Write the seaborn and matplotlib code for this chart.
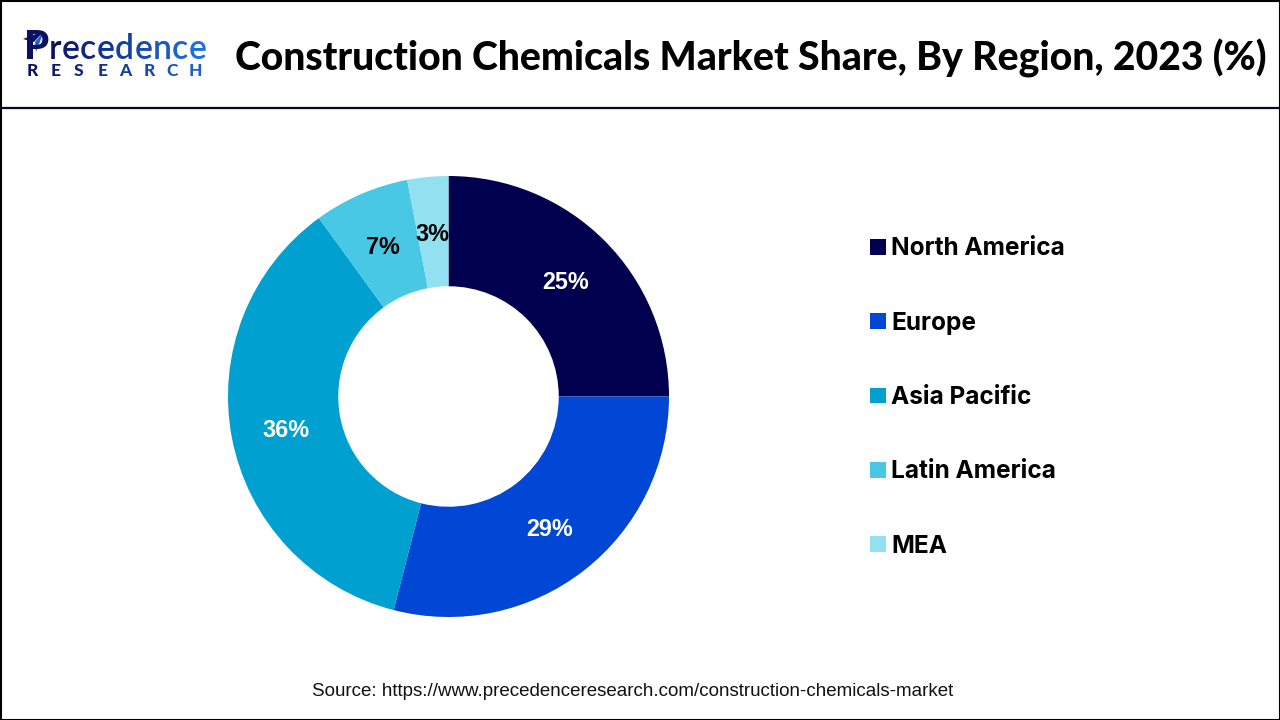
import matplotlib
matplotlib.use("Agg")
import matplotlib.pyplot as plt
from matplotlib.lines import Line2D
from matplotlib.patches import Polygon, Rectangle
import seaborn as sns

regions = ["North America", "Europe", "Asia Pacific", "Latin America", "MEA"]
shares = [25, 29, 36, 7, 3]
region_colors = ["#00004F", "#0047D6", "#00A0D0", "#48C8E4", "#92E0F0"]
label_colors = ["white", "white", "white", "black", "black"]

title = "Construction Chemicals Market Share, By Region, 2023 (%)"
source = "Source: https://www.precedenceresearch.com/construction-chemicals-market"
logo_top = "recedence"
logo_bottom = "RESEARCH"

W, H = 1280, 720

sns.set_theme(style="white")
palette = sns.color_palette(region_colors)

fig = plt.figure(figsize=(W / 100, H / 100), dpi=100, facecolor="white")

# overlay in pixel coordinates for frame, header and logo
bg = fig.add_axes([0, 0, 1, 1])
bg.set_xlim(0, W)
bg.set_ylim(H, 0)
bg.axis("off")
bg.add_patch(Rectangle((0.5, 0.5), W - 1, H - 1, fill=False, ec="black", lw=1.5))
bg.add_line(Line2D([0, W], [107.5, 107.5], color="#06062A", lw=1.6))

bg.text(751, 58, title, family="Lato", weight="black", fontsize=28.2,
        color="black", ha="center", va="center")
bg.text(633, 691, source, family="Liberation Sans", fontsize=13.5,
        color="#111111", ha="center", va="center")

# logo: the P and its plane, then letters fading from navy to blue
bg.text(24, 59, "P", family="Lato", weight="black", fontsize=29, color="#0B1160",
        ha="left", va="baseline")
bg.add_patch(Polygon([(33, 37), (44, 31), (36, 53)], fc="white", ec="none"))
bg.add_patch(Polygon([(23, 39), (44, 31), (34, 42)], fc="#0B1160", ec="none"))
bg.add_patch(Polygon([(44, 31), (36, 52), (35, 42)], fc="#1F5FD8", ec="none"))

renderer = fig.canvas.get_renderer()
top_colors = sns.blend_palette(["#0B1160", "#1C6FE0"], len(logo_top))
x = 48.5
for ch, col in zip(logo_top, top_colors):
    t = bg.text(x, 59, ch, family="Lato", weight="semibold", fontsize=24.2, color=col,
                ha="left", va="baseline")
    x += t.get_window_extent(renderer).width + 0.5

bottom_colors = sns.blend_palette(["#0B1160", "#1C5FD0"], len(logo_bottom))
for i, ch in enumerate(logo_bottom):
    bg.text(32 + i * 23.4, 71.5, ch, family="Lato", weight="black", fontsize=12.5,
            color=bottom_colors[i], ha="center", va="center")

# donut
ax = fig.add_axes([228 / W, 1 - 617 / H, 441 / W, 441 / H])
wedges, _, autotexts = ax.pie(
    shares,
    colors=palette,
    startangle=90,
    counterclock=False,
    radius=1.0,
    autopct=lambda p: f"{p:.0f}%",
    pctdistance=0.75,
    wedgeprops={"width": 0.5, "linewidth": 0},
    textprops={"family": "Liberation Sans", "weight": "bold", "fontsize": 16.8},
)
for txt, col in zip(autotexts, label_colors):
    txt.set_color(col)
    # labels sit slightly under the ring's mid line in the reference
    txt.set_y(txt.get_position()[1] - 0.012)
ax.set_xlim(-1, 1)
ax.set_ylim(-1, 1)

bg.legend(
    wedges,
    regions,
    loc="upper left",
    bbox_to_anchor=(846 / W, 1 - 213 / H),
    bbox_transform=fig.transFigure,
    frameon=False,
    handlelength=0.62,
    handleheight=0.62,
    handletextpad=0.24,
    labelspacing=2.1,
    borderpad=0.5,
    labelcolor="black",
    prop={"family": "Inter", "weight": "bold", "size": 17.6},
)

fig.savefig("out.png", dpi=100)
